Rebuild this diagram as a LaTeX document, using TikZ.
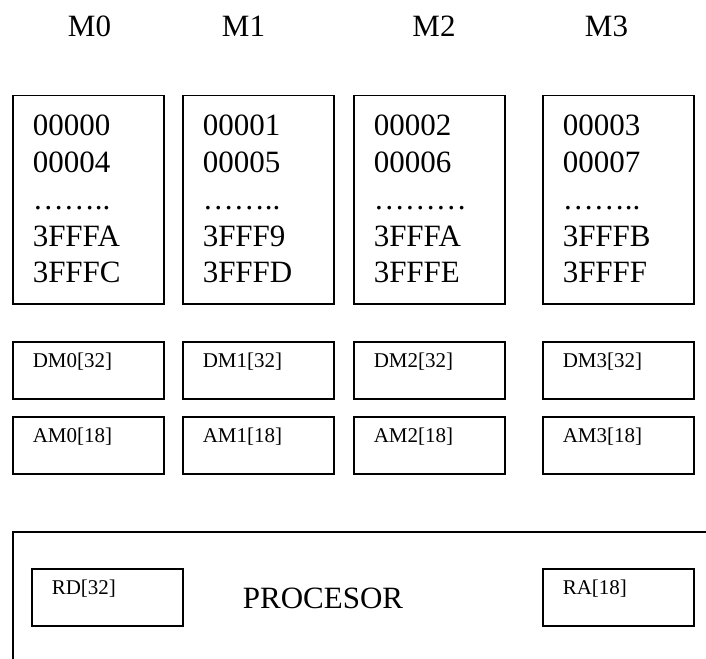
\documentclass[tikz,border=0pt]{standalone}
\usepackage{fontspec}
\setmainfont{Liberation Serif}
\usetikzlibrary{positioning}

\begin{document}
\begin{tikzpicture}[x=1pt, y=-1pt,
      membox/.style={draw, line width=1.5pt, anchor=north west,
        minimum width=151pt, inner xsep=20pt, inner ysep=0pt,
        text width=111pt, align=left, text height=40pt, text depth=168pt,
        font=\fontsize{31}{36.8}\selectfont},
      regbox/.style={draw, line width=1.5pt, anchor=north west,
        minimum width=151pt, inner xsep=20pt, inner ysep=0pt,
        text width=111pt, align=left, text height=26pt, text depth=31pt,
        font=\fontsize{21}{25}\selectfont},
      title/.style={anchor=base, font=\fontsize{31}{37}\selectfont}]
    \useasboundingbox (0,0) rectangle (706,658);
    \clip (0,0) rectangle (706,658);
    % module names
    \node[title] (hm0) at (89.5,37) {M0};
    \node[title] (hm1) at (243.5,37) {M1};
    \node[title] (hm2) at (434,37) {M2};
    \node[title] (hm3) at (606.5,37) {M3};
    % memory modules
    \node[membox] (m0) at (12,95) {00000\\00004\\……..\\3FFFA\\3FFFC};
    \node[membox] (m1) at (182,95) {00001\\00005\\……..\\3FFF9\\3FFFD};
    \node[membox] (m2) at (353,95) {00002\\00006\\………\\3FFFA\\3FFFE};
    \node[membox] (m3) at (542,95) {00003\\00007\\……..\\3FFFB\\3FFFF};
    % data registers
    \node[regbox] (dm0) at (12,341) {DM0[32]};
    \node[regbox] (dm1) at (182,341) {DM1[32]};
    \node[regbox] (dm2) at (353,341) {DM2[32]};
    \node[regbox] (dm3) at (542,341) {DM3[32]};
    % address registers
    \node[regbox] (am0) at (12,416) {AM0[18]};
    \node[regbox] (am1) at (182,416) {AM1[18]};
    \node[regbox] (am2) at (353,416) {AM2[18]};
    \node[regbox] (am3) at (542,416) {AM3[18]};
    % processor
    \node[draw, line width=1.5pt, anchor=north west,
      minimum width=740pt, minimum height=160pt] (proc) at (12,531) {};
    \node[regbox] (rd) at (31,568) {RD[32]};
    \node[regbox] (ra) at (542,568) {RA[18]};
    \node[title] (procname) at (323,608) {PROCESOR};
  \end{tikzpicture}
\end{document}
